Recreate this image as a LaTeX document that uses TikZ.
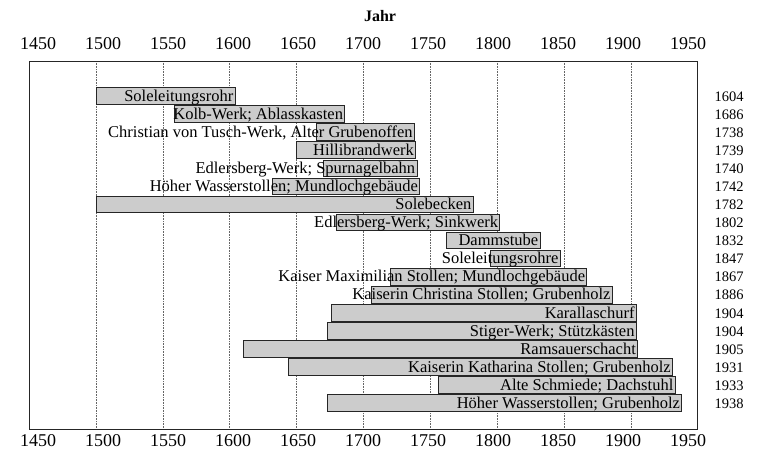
\documentclass[tikz,border=0pt]{standalone}
\usepackage{fontspec}
\setmainfont{Liberation Serif}

\begin{document}
\begin{tikzpicture}
[x=1pt,y=-1pt,%
  every node/.style={inner sep=0pt},%
  bar/.style={draw=black!85,fill=black!20,line width=0.8pt},%
  gridline/.style={black!60,densely dotted,line width=0.6pt},%
  axislabel/.style={font=\fontsize{18}{18}\selectfont},%
  barlabel/.style={anchor=base east,font=\fontsize{16.5}{16.5}\selectfont},%
  endlabel/.style={anchor=base,font=\fontsize{14.5}{14.5}\selectfont}]
\useasboundingbox (0,0) rectangle (763,456);
\node[font=\bfseries\fontsize{16}{16}\selectfont] (jahr) at (380,16) {Jahr};
% axis labels, top and bottom
\foreach \yr [count=\k from 0] in {1450,1500,...,1950} {
  \node[axislabel] (top\k) at (38+65*\k,44) {\yr};
  \node[axislabel] (bot\k) at (38+65*\k,441) {\yr};
}
% grid
\foreach \yr in {1500,1550,...,1900} {
  \pgfmathsetmacro\gx{96+(\yr-1500)*1.3372}
  \draw[gridline] (\gx,61) -- (\gx,429);
}
\draw[black!85,line width=0.8pt] (29,61) rectangle (697.6,429);
% bars: start/end/label
\foreach \s/\e/\txt [count=\i from 0] in {%
  1500/1604/Soleleitungsrohr,
  1559/1686/Kolb-Werk; Ablasskasten,
  {1665/1738/Christian von Tusch-Werk, Alter Grubenoffen},
  1650/1739/Hillibrandwerk,
  1670/1740/Edlersberg-Werk; Spurnagelbahn,
  1632/1742/Höher Wasserstollen; Mundlochgebäude,
  1500/1782/Solebecken,
  1680/1802/Edlersberg-Werk; Sinkwerk,
  1762/1832/Dammstube,
  1795/1847/Soleleitungsrohre,
  1720/1867/Kaiser Maximilian Stollen; Mundlochgebäude,
  1706/1886/Kaiserin Christina Stollen; Grubenholz,
  1676/1904/Karallaschurf,
  1673/1904/Stiger-Werk; Stützkästen,
  1610/1905/Ramsauerschacht,
  1644/1931/Kaiserin Katharina Stollen; Grubenholz,
  1756/1933/Alte Schmiede; Dachstuhl,
  1673/1938/Höher Wasserstollen; Grubenholz} {
  \pgfmathsetmacro\ry{96+18.06*\i}
  \pgfmathsetmacro\xs{96+(\s-1500)*1.3372}
  \pgfmathsetmacro\xe{96+(\e-1500)*1.3372}
  \draw[bar] (\xs,\ry-8.3) rectangle (\xe,\ry+8.3);
  \node[barlabel] (lab\i) at (\xe-1.5,\ry+5.3) {\txt};
  \node[endlabel] (end\i) at (729,\ry+5.3) {\e};
}
\end{tikzpicture}
\end{document}
